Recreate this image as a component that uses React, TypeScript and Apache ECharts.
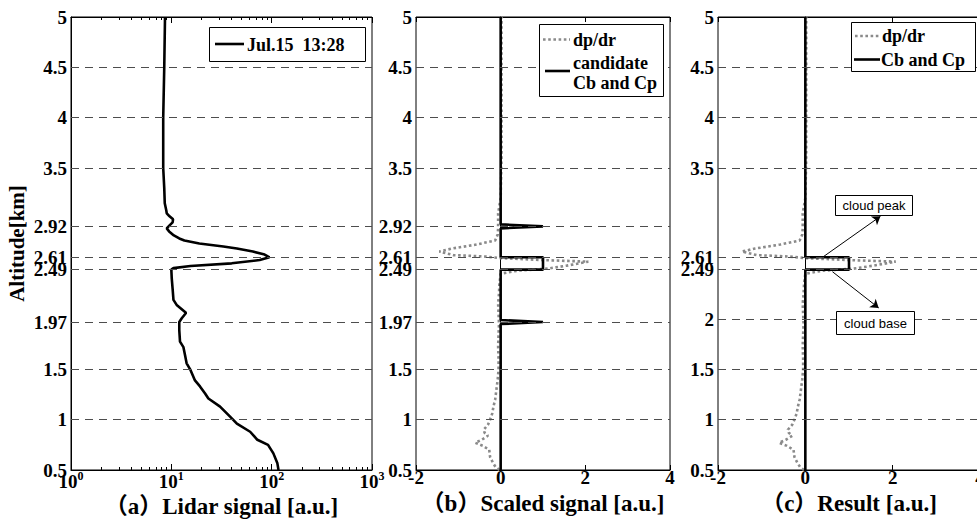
import React, { useEffect, useRef } from "react";
import * as echarts from "echarts";

// ---------- data ----------
const altA = [0.5, 0.566, 0.665, 0.75, 0.8, 0.88, 0.96, 1.03, 1.13, 1.21, 1.26, 1.33, 1.39, 1.5, 1.56, 1.64, 1.72, 1.775, 1.89, 1.97, 2.007, 2.06, 2.07, 2.14, 2.19, 2.3, 2.4, 2.49, 2.505, 2.526, 2.553, 2.586, 2.613, 2.64, 2.67, 2.7, 2.72, 2.75, 2.78, 2.8, 2.83, 2.87, 2.9, 2.93, 2.96, 2.99, 3.02, 3.05, 3.08, 3.15, 3.3, 3.5, 4.0, 4.5, 5.0];
const lidarSignal = [117, 114, 104, 92, 72, 61, 45, 38.5, 30.6, 23.4, 21.7, 19.3, 17.2, 15.4, 14.2, 13.7, 13.2, 12.2, 12.0, 12.0, 12.7, 14.0, 13.7, 11.3, 10.5, 10.3, 10.1, 10.0, 10.5, 15.5, 40, 76, 95, 85, 65, 45, 33, 19, 13.5, 12.0, 10.6, 9.5, 9.0, 9.6, 10.3, 10.4, 9.6, 9.0, 8.9, 8.6, 8.5, 8.3, 8.3, 8.5, 8.65];

const altD = [0.5, 0.53, 0.57, 0.63, 0.7, 0.74, 0.77, 0.8, 0.84, 0.87, 0.9, 0.95, 1.0, 1.06, 1.13, 1.2, 1.3, 1.4, 1.5, 1.6, 1.73, 1.85, 1.95, 2.05, 2.15, 2.25, 2.35, 2.45, 2.48, 2.5, 2.53, 2.57, 2.585, 2.605, 2.62, 2.635, 2.67, 2.7, 2.74, 2.78, 2.84, 2.9, 2.97, 3.05, 3.2, 3.6, 4.0, 4.5, 5.0];
const dpdr = [-0.03, -0.12, -0.18, -0.25, -0.27, -0.42, -0.6, -0.45, -0.3, -0.38, -0.4, -0.3, -0.25, -0.2, -0.17, -0.13, -0.1, -0.07, -0.05, -0.05, -0.06, -0.05, -0.04, -0.05, -0.06, -0.04, -0.03, 0.0, 0.4, 1.1, 1.56, 2.07, 1.0, 0.0, -0.35, -1.12, -1.45, -1.15, -0.57, -0.13, -0.07, -0.06, -0.06, -0.06, 0.0, 0.02, 0.02, 0.02, 0.02];

const altCand = [0.5, 1.95, 1.97, 1.99, 2.49, 2.49, 2.613, 2.613, 2.9, 2.92, 2.94, 5.0];
const candidate = [0, 0, 1, 0, 0, 1, 1, 0, 0, 1, 0, 0];

const altRes = [0.5, 2.49, 2.49, 2.613, 2.613, 5.0];
const result = [0, 0, 1, 1, 0, 0];

const yTicksAB = [0.5, 1, 1.5, 1.97, 2.49, 2.61, 2.92, 3.5, 4, 4.5, 5];
const yTicksC = [0.5, 1, 1.5, 2, 2.49, 2.61, 3.5, 4, 4.5, 5];
const logMajor = [1, 10, 100, 1000];
const logMinor = [2, 3, 4, 5, 6, 7, 8, 9, 20, 30, 40, 50, 60, 70, 80, 90, 200, 300, 400, 500, 600, 700, 800, 900];

const xTitles = ["（a）Lidar signal [a.u.]", "（b）Scaled signal [a.u.]", "（c）Result [a.u.]"];
const yTitle = "Altitude[km]";
const legendA = ["Jul.15  13:28"];
const legendB = ["dp/dr", "candidate", "Cb and Cp"];
const legendC = ["dp/dr", "Cb and Cp"];
const notes = ["cloud peak", "cloud base"];
// arrow anchors in panel (c) data space: [start, end]
const peakArrow = [[0.4, 2.615], [1.72, 3.02]];
const baseArrow = [[0.62, 2.47], [1.68, 2.11]];

// ---------- style ----------
const serif = '"Liberation Serif", "Times New Roman", "Noto Sans CJK SC", serif';
const sans = '"Liberation Sans", Arial, sans-serif';
const dotColor = "#8a8a8a";
const tickFont = { fontFamily: serif, fontWeight: "bold" as const, fontSize: 19, color: "#000" };

const grids = [
  { left: 71, top: 17, width: 301, height: 453 },
  { left: 416, top: 17, width: 254, height: 453 },
  { left: 718, top: 17, width: 262, height: 453 },
];

function pairs(xs: number[], ys: number[]) {
  return xs.map((x, i) => [x, ys[i]]);
}

function yAxis(gridIndex: number, ticks: number[], name?: string) {
  return {
    type: "value",
    gridIndex,
    min: 0.5,
    max: 5,
    name: name || "",
    nameLocation: "middle",
    nameGap: 44,
    nameTextStyle: { fontFamily: serif, fontWeight: "bold", fontSize: 21, color: "#000" },
    axisLine: { show: true, lineStyle: { color: "#000", width: 1 } },
    axisTick: { show: true, inside: true, length: 5, customValues: ticks, lineStyle: { color: "#000" } },
    axisLabel: { ...tickFont, margin: 4, customValues: ticks, formatter: (v: number) => String(v) },
    splitLine: { show: false },
  };
}

function linX(gridIndex: number, position: string, title?: string) {
  const bottom = position === "bottom";
  return {
    type: "value",
    gridIndex,
    position,
    min: -2,
    max: 4,
    interval: 2,
    name: title || "",
    nameLocation: "middle",
    nameGap: 12,
    nameTextStyle: { fontFamily: serif, fontWeight: "bold", fontSize: 23, color: "#000", verticalAlign: "top" },
    axisLine: { show: true, lineStyle: { color: "#000", width: 1 } },
    axisTick: { show: true, inside: true, length: 5, lineStyle: { color: "#000" } },
    axisLabel: { show: bottom, ...tickFont, margin: -2 },
    splitLine: { show: false },
  };
}

function logX(position: string, minor: boolean, title?: string) {
  const showLabel = position === "bottom" && !minor;
  return {
    type: "log",
    logBase: 10,
    gridIndex: 0,
    position,
    min: 1,
    max: 1000,
    name: title || "",
    nameLocation: "middle",
    nameGap: 12,
    nameTextStyle: { fontFamily: serif, fontWeight: "bold", fontSize: 23, color: "#000", verticalAlign: "top" },
    axisLine: { show: !minor, lineStyle: { color: "#000", width: 1 } },
    axisTick: {
      show: true,
      inside: true,
      length: minor ? 3 : 6,
      customValues: minor ? logMinor : logMajor,
      lineStyle: { color: "#000" },
    },
    axisLabel: {
      show: showLabel,
      customValues: logMajor,
      margin: 0,
      formatter: (v: number) => `{b|10}{s|${Math.round(Math.log10(v))}}`,
      rich: {
        b: { fontFamily: serif, fontWeight: "bold", fontSize: 19, color: "#000", lineHeight: 22 },
        s: { fontFamily: serif, fontWeight: "bold", fontSize: 12, color: "#000", verticalAlign: "top", lineHeight: 12 },
      },
    },
    splitLine: { show: false },
    minorTick: { show: false },
  };
}

function gridLines(xi: number, yi: number, ticks: number[]) {
  return {
    type: "line",
    xAxisIndex: xi,
    yAxisIndex: yi,
    data: [],
    z: 1,
    silent: true,
    markLine: {
      silent: true,
      symbol: ["none", "none"],
      label: { show: false },
      lineStyle: { color: "#4d4d4d", type: [8, 6], width: 1 },
      data: ticks.filter((t) => t > 0.5 && t < 5).map((t) => ({ yAxis: t })),
    },
  };
}

function curve(xi: number, yi: number, data: number[][], dotted: boolean, z: number) {
  return {
    type: "line",
    xAxisIndex: xi,
    yAxisIndex: yi,
    data,
    showSymbol: false,
    symbol: "none",
    z,
    lineStyle: dotted
      ? { color: dotColor, width: 2.6, type: [2.6, 2.6] }
      : { color: "#000", width: 2.6 },
  };
}

const textStyle = (text: string, size: number, fam = serif, bold = true) => ({
  text,
  fontFamily: fam,
  fontSize: size,
  fontWeight: bold ? "bold" : "normal",
  fill: "#000",
  align: "left",
  verticalAlign: "middle",
});

export default function App() {
  const ref = useRef<HTMLDivElement>(null);

  useEffect(() => {
    if (!ref.current) return;
    const chart = echarts.init(ref.current, undefined, { renderer: "svg" });

    const option: any = {
      animation: false,
      backgroundColor: "#fff",
      grid: grids.map((g) => ({
        ...g,
        show: true,
        borderColor: "#000",
        borderWidth: 1,
        backgroundColor: "transparent",
        containLabel: false,
        outerBoundsMode: "none",
      })),
      xAxis: [
        logX("bottom", false, xTitles[0]),
        logX("bottom", true),
        logX("top", false),
        logX("top", true),
        linX(1, "bottom", xTitles[1]),
        linX(1, "top"),
        linX(2, "bottom", xTitles[2]),
        linX(2, "top"),
      ],
      yAxis: [yAxis(0, yTicksAB, yTitle), yAxis(1, yTicksAB), yAxis(2, yTicksC)],
      series: [
        gridLines(0, 0, yTicksAB),
        gridLines(4, 1, yTicksAB),
        gridLines(6, 2, yTicksC),
        curve(0, 0, pairs(lidarSignal, altA), false, 3),
        curve(4, 1, pairs(dpdr, altD), true, 2),
        curve(4, 1, pairs(candidate, altCand), false, 3),
        curve(6, 2, pairs(dpdr, altD), true, 2),
        curve(6, 2, pairs(result, altRes), false, 3),
        {
          type: "line",
          xAxisIndex: 6,
          yAxisIndex: 2,
          data: [],
          z: 4,
          silent: true,
          markLine: {
            silent: true,
            symbol: ["none", "arrow"],
            symbolSize: 8,
            label: { show: false },
            lineStyle: { color: "#000", type: "solid", width: 1 },
            data: [
              [{ coord: peakArrow[0] }, { coord: peakArrow[1] }],
              [{ coord: baseArrow[0] }, { coord: baseArrow[1] }],
            ],
          },
        },
      ],
      graphic: [
        // legend (a)
        { type: "rect", z: 10, shape: { x: 209.5, y: 27.5, width: 156, height: 34 }, style: { fill: "#fff", stroke: "#000", lineWidth: 1 } },
        { type: "line", z: 11, shape: { x1: 215, y1: 44, x2: 244, y2: 44 }, style: { stroke: "#000", lineWidth: 2.6 } },
        { type: "text", z: 11, x: 247, y: 45, style: textStyle(legendA[0], 18) },
        // legend (b)
        { type: "rect", z: 10, shape: { x: 539.5, y: 24.5, width: 124, height: 72 }, style: { fill: "#fff", stroke: "#000", lineWidth: 1 } },
        { type: "line", z: 11, shape: { x1: 543, y1: 39.5, x2: 570, y2: 39.5 }, style: { stroke: dotColor, lineWidth: 2.6, lineDash: [2.6, 2.6] } },
        { type: "text", z: 11, x: 573, y: 40, style: textStyle(legendB[0], 18) },
        { type: "line", z: 11, shape: { x1: 545, y1: 71, x2: 570, y2: 71 }, style: { stroke: "#000", lineWidth: 2.6 } },
        { type: "text", z: 11, x: 573, y: 63, style: textStyle(legendB[1], 18) },
        { type: "text", z: 11, x: 573, y: 83, style: textStyle(legendB[2], 18) },
        // legend (c)
        { type: "rect", z: 10, shape: { x: 851.5, y: 22.5, width: 124, height: 49 }, style: { fill: "#fff", stroke: "#000", lineWidth: 1 } },
        { type: "line", z: 11, shape: { x1: 855, y1: 36, x2: 880, y2: 36 }, style: { stroke: dotColor, lineWidth: 2.6, lineDash: [2.6, 2.6] } },
        { type: "text", z: 11, x: 882, y: 36, style: textStyle(legendC[0], 18) },
        { type: "line", z: 11, shape: { x1: 854, y1: 59.5, x2: 880, y2: 59.5 }, style: { stroke: "#000", lineWidth: 2.6 } },
        { type: "text", z: 11, x: 881, y: 60, style: textStyle(legendC[1], 18) },
        // annotations (c)
        { type: "rect", z: 10, shape: { x: 835.5, y: 195.5, width: 77, height: 20 }, style: { fill: "#fff", stroke: "#000", lineWidth: 1 } },
        { type: "text", z: 11, x: 874, y: 205.5, style: { ...textStyle(notes[0], 13, sans, false), align: "center" } },
        { type: "rect", z: 10, shape: { x: 836.5, y: 311.5, width: 78, height: 23 }, style: { fill: "#fff", stroke: "#000", lineWidth: 1 } },
        { type: "text", z: 11, x: 875.5, y: 323, style: { ...textStyle(notes[1], 13, sans, false), align: "center" } },
      ],
    };

    chart.setOption(option);
    return () => chart.dispose();
  }, []);

  return (
    <div
      ref={ref}
      style={{ position: "fixed", left: 0, top: 0, width: 977, height: 525, background: "#fff" }}
    />
  );
}
